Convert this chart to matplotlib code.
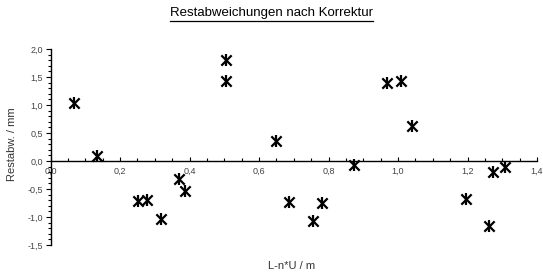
import matplotlib
matplotlib.use("Agg")
import matplotlib.pyplot as plt
from matplotlib.ticker import MultipleLocator, FuncFormatter
from matplotlib.lines import Line2D

x_vals = [0.069, 0.133, 0.252, 0.278, 0.319, 0.371, 0.388, 0.505, 0.505, 0.648,
          0.686, 0.754, 0.781, 0.872, 0.969, 1.008, 1.039, 1.195, 1.261, 1.272, 1.307]
y_vals = [1.03, 0.09, -0.72, -0.70, -1.04, -0.32, -0.53, 1.80, 1.43, 0.35,
          -0.73, -1.07, -0.75, -0.08, 1.40, 1.42, 0.62, -0.68, -1.16, -0.20, -0.10]

title = "Restabweichungen nach Korrektur"
xlabel = "L-n*U / m"
ylabel = "Restabw. / mm"

plt.rcParams['font.family'] = ['Liberation Sans', 'DejaVu Sans']

W, H = 543, 275
fig = plt.figure(figsize=(W / 100, H / 100), dpi=100)
left, right = 50.5, 537
top, bottom = 49, 245
ax = fig.add_axes([left / W, (H - bottom) / H, (right - left) / W, (bottom - top) / H])

ax.scatter(x_vals, y_vals, marker='x', s=55, color='black', linewidths=1.6, zorder=3)
ax.scatter(x_vals, y_vals, marker='|', s=70, color='black', linewidths=1.6, zorder=3)

ax.set_xlim(0, 1.4)
ax.set_ylim(-1.5, 2.0)

for s in ['top', 'right']:
    ax.spines[s].set_visible(False)
ax.spines['bottom'].set_position(('data', 0))
ax.spines['bottom'].set_linewidth(1.0)
ax.spines['left'].set_linewidth(1.0)

fmt = FuncFormatter(lambda v, p: f"{v:.1f}".replace('.', ','))
ax.xaxis.set_major_locator(MultipleLocator(0.2))
ax.xaxis.set_minor_locator(MultipleLocator(0.05))
ax.yaxis.set_major_locator(MultipleLocator(0.5))
ax.yaxis.set_minor_locator(MultipleLocator(0.1))
ax.xaxis.set_major_formatter(fmt)
ax.yaxis.set_major_formatter(fmt)

ax.tick_params(axis='x', which='major', direction='in', length=3, width=0.8,
               labelsize=6.5, labelcolor='#444444', pad=4)
ax.tick_params(axis='x', which='minor', direction='in', length=2, width=0.8)
ax.tick_params(axis='y', which='major', direction='out', length=3.5, width=0.8,
               labelsize=6.5, labelcolor='#444444', pad=2)
ax.tick_params(axis='y', which='minor', direction='out', length=2, width=0.8)

fig.text(12 / W, 1 - 144 / H, ylabel, rotation=90, ha='center', va='center',
         fontsize=8, color='#333333')
fig.text(292 / W, 1 - 266 / H, xlabel, ha='center', va='center',
         fontsize=8, color='#333333')

t = fig.text(271.5 / W, 1 - 13 / H, title, ha='center', va='center',
             fontsize=9.5, color='black')
fig.canvas.draw()
bb = t.get_window_extent(renderer=fig.canvas.get_renderer())
y_line = (bb.y0 - 1.5) / H
fig.add_artist(Line2D([bb.x0 / W, bb.x1 / W], [y_line, y_line],
                      transform=fig.transFigure, color='black', linewidth=0.9))

fig.savefig("out.png", dpi=100)
